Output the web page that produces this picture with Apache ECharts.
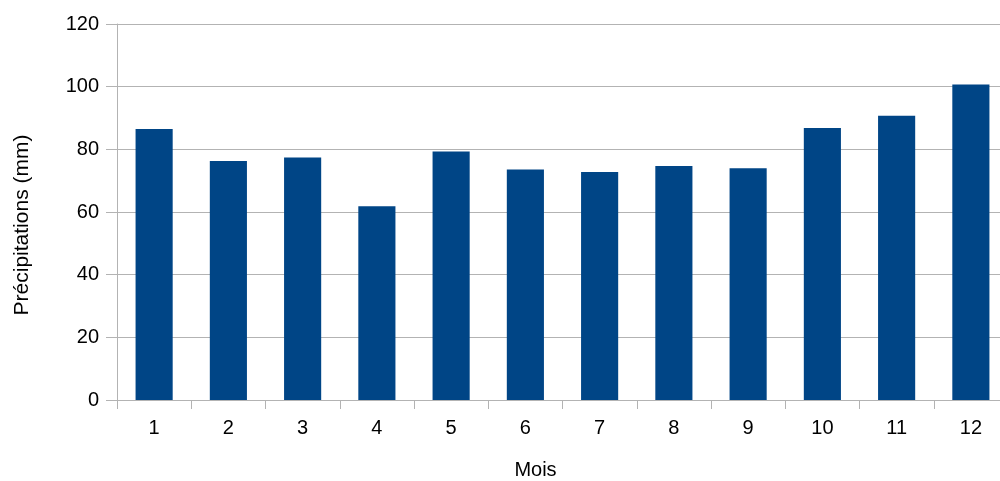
<!DOCTYPE html>
<html><head><meta charset="utf-8">
<script src="https://cdn.jsdelivr.net/npm/echarts@6/dist/echarts.min.js"></script>
<style>html,body{margin:0;padding:0;background:#fff}#c{width:1000px;height:481px}</style>
</head><body><div id="c"></div>
<script>
const categories = ['1','2','3','4','5','6','7','8','9','10','11','12'];
const precipitation = [86.5, 76.3, 77.4, 61.8, 79.3, 73.6, 72.8, 74.7, 74.0, 86.8, 90.7, 100.7];
const yTicks = [0, 20, 40, 60, 80, 100, 120];

const chart = echarts.init(document.getElementById('c'));
const font = 'Liberation Sans';
chart.setOption({
  animation: false,
  grid: { left: 117, right: -8, top: 24, bottom: 81, containLabel: false, outerBoundsMode: 'none' },
  xAxis: {
    type: 'category', data: categories,
    name: 'Mois', nameLocation: 'middle', nameGap: 60,
    nameTextStyle: { fontFamily: font, fontSize: 20, color: '#000', padding: [0, 54, 0, 0] },
    axisLine: { lineStyle: { color: '#b3b3b3' } },
    axisTick: { show: true, length: 9, alignWithLabel: false, lineStyle: { color: '#b3b3b3' } },
    axisLabel: { fontFamily: font, fontSize: 20, color: '#000', margin: 18 }
  },
  yAxis: {
    type: 'value', min: yTicks[0], max: yTicks[yTicks.length-1], interval: 20,
    name: 'Précipitations (mm)', nameLocation: 'middle', nameGap: 84, nameRotate: 90,
    nameTextStyle: { fontFamily: font, fontSize: 21, color: '#000', padding: [0, 26, 0, 0] },
    axisLine: { show: true, lineStyle: { color: '#b3b3b3' } },
    axisTick: { show: true, length: 11, lineStyle: { color: '#b3b3b3' } },
    splitLine: { lineStyle: { color: '#b3b3b3' } },
    axisLabel: { fontFamily: font, fontSize: 20, color: '#000', margin: 18 }
  },
  series: [{
    type: 'bar', data: precipitation, barWidth: '50%',
    itemStyle: { color: '#004586' }
  }]
});
</script></body></html>
